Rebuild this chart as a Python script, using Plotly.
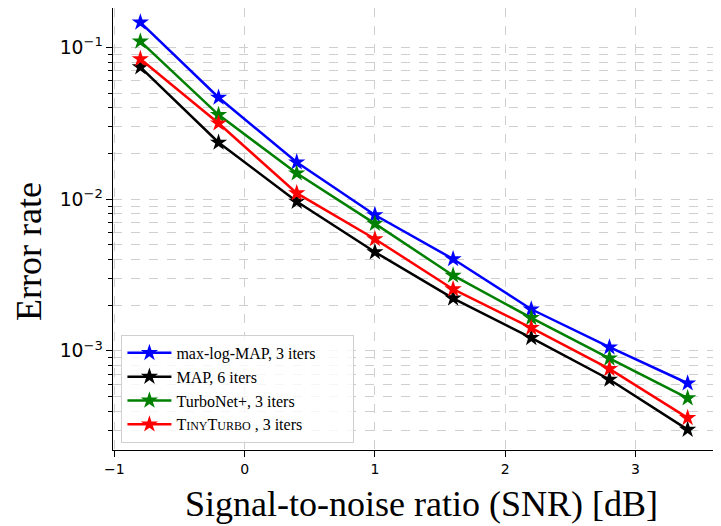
import plotly.graph_objects as go

snr = [-0.8, -0.2, 0.4, 1.0, 1.6, 2.2, 2.8, 3.4]

max_log_map = [0.146, 0.0467, 0.0175, 0.00786, 0.00403, 0.00188, 0.001057, 0.000612]
map_6 = [0.0741, 0.0236, 0.00964, 0.00448, 0.00222, 0.00122, 0.000648, 0.000303]
turbonet = [0.1095, 0.0359, 0.0148, 0.00689, 0.00314, 0.00165, 0.000894, 0.000488]
tinyturbo = [0.0838, 0.0316, 0.01094, 0.00546, 0.00255, 0.00142, 0.000761, 0.000362]

names = [
    "max-log-MAP, 3 iters",
    "MAP, 6 iters",
    "TurboNet+, 3 iters",
    "T<span style='font-size:12px'>INY</span>T<span style='font-size:12px'>URBO</span> , 3 iters",
]
colors = ["#0000ff", "#000000", "#008000", "#ff0000"]

fig = go.Figure()
for i, (name, ys, c) in enumerate(zip(names, [max_log_map, map_6, turbonet, tinyturbo], colors)):
    # trailing nbsp on the first entry widens the legend box like matplotlib's padding
    label = name + "\u00a0" * 8 if i == 0 else name
    fig.add_trace(go.Scatter(
        x=snr, y=ys, name=label, mode="lines+markers",
        line=dict(color=c, width=2.5),
        marker=dict(symbol="star", size=13, color=c, line=dict(width=0)),
    ))

grid = "#cfcfcf"
# page body adds 8px offset, margins compensate for that
fig.update_layout(
    width=721, height=526,
    margin=dict(l=105, r=14, t=0, b=83.5),
    paper_bgcolor="white", plot_bgcolor="white",
    font=dict(family="DejaVu Sans", color="black"),
    showlegend=True,
    legend=dict(
        x=0.014, y=0.016, xanchor="left", yanchor="bottom",
        bgcolor="rgba(255,255,255,0.8)", bordercolor="#d0d0d0", borderwidth=1,
        font=dict(family="Liberation Serif", size=16),
        itemwidth=44,
        tracegroupgap=0,
    ),
    xaxis=dict(
        range=[-1.01, 3.61], tickvals=[-1, 0, 1, 2, 3],
        showline=True, mirror=True, linecolor="black", linewidth=1.3,
        ticks="outside", ticklen=6, tickwidth=1.2, tickcolor="black",
        tickfont=dict(size=14),
        showgrid=True, gridcolor=grid, griddash="dash", gridwidth=1,
        zeroline=False,
    ),
    yaxis=dict(
        type="log", range=[-3.653, -0.741], dtick=1,
        exponentformat="power",
        showline=True, mirror=True, linecolor="black", linewidth=1.3,
        ticks="outside", ticklen=6, tickwidth=1.2, tickcolor="black",
        tickfont=dict(size=15),
        showgrid=True, gridcolor=grid, griddash="dash", gridwidth=1,
        minor=dict(dtick="D1", ticks="outside", ticklen=3.5, tickcolor="black",
                   showgrid=True, gridcolor=grid, griddash="dash", gridwidth=1),
        zeroline=False,
    ),
)

fig.add_annotation(
    text="Signal-to-noise ratio (SNR) [dB]", xref="paper", yref="paper",
    x=0.5, y=0, xshift=7, yshift=-54, yanchor="middle", showarrow=False,
    font=dict(family="Liberation Serif", size=36, color="black"),
)
fig.add_annotation(
    text="Error rate", xref="paper", yref="paper",
    x=0, y=0.5, xshift=-84, yshift=-23, xanchor="center", textangle=-90,
    showarrow=False,
    font=dict(family="Liberation Serif", size=36, color="black"),
)

fig.write_html("out.html")
